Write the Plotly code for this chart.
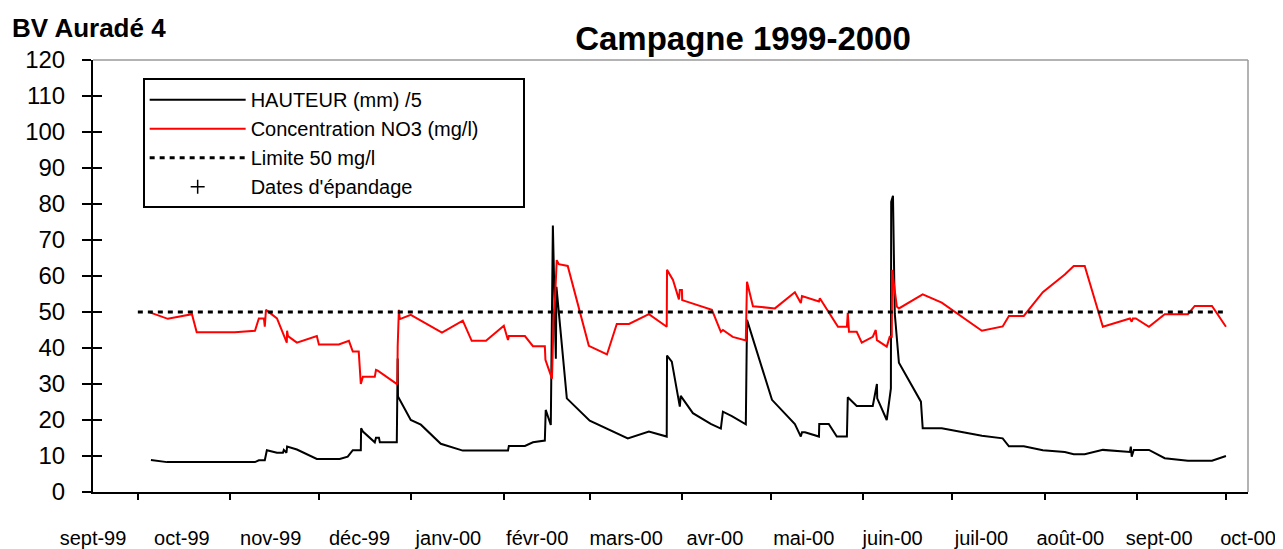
import pandas as pd
import plotly.graph_objects as go

# ---- Data (days counted from 1999-10-01) ----
origine = "1999-10-01"

jours_hauteur = [4.4, 9.8, 39.4, 40.7, 42.7, 43.4, 46.8, 48.8, 49.1, 50.0, 50.2, 53.5, 60.2, 67.9,
                 70.6, 72.3, 75.0, 75.1, 75.7, 79.7, 80.1, 81.1, 81.4, 87.1, 87.4, 87.5, 91.8, 95.2,
                 101.9, 109.3, 124.5, 124.8, 130.2, 132.9, 136.9, 137.2, 138.9, 139.6, 140.6, 140.8,
                 144.3, 151.4, 152.0, 164.8, 171.9, 177.9, 178.0, 179.6, 182.3, 182.6, 186.7, 192.7,
                 196.1, 196.8, 199.8, 204.5, 204.9, 213.3, 221.0, 223.0, 223.4, 224.4, 229.1, 229.2,
                 232.4, 235.1, 238.5, 238.8, 241.8, 247.2, 248.6, 248.7, 251.9, 253.3, 253.4, 254.0,
                 254.6, 256.0, 263.4, 264.0, 270.4, 283.9, 290.9, 293.0, 298.0, 304.4, 311.8, 314.8,
                 318.5, 324.6, 333.7, 334.0, 334.3, 335.0, 340.1, 345.4, 353.2, 361.3, 366.0]
hauteur_sur5 = [8.9, 8.3, 8.3, 8.8, 8.8, 11.6, 10.9, 10.9, 11.7, 10.9, 12.6, 11.8, 9.2, 9.2,
                9.8, 11.6, 11.6, 17.7, 16.8, 13.8, 15.1, 15.1, 13.8, 13.8, 37.1, 26.5, 20.0, 18.7,
                13.4, 11.5, 11.5, 12.8, 12.8, 13.8, 14.3, 22.8, 18.6, 74.0, 37.0, 57.0,
                26.0, 20.5, 19.8, 14.9, 16.8, 15.4, 37.9, 36.2, 23.7, 26.7, 21.9, 18.9,
                17.6, 22.3, 21.1, 18.8, 47.8, 25.6, 18.9, 15.4, 16.6, 16.6, 15.4, 18.9,
                18.9, 15.4, 15.4, 26.3, 23.9, 23.9, 30.0, 26.0, 20.0, 28.8, 80.6, 82.3,
                49.6, 35.9, 25.1, 17.7, 17.7, 15.6, 14.9, 12.7, 12.7, 11.6, 11.1, 10.5,
                10.5, 11.7, 11.1, 12.6, 9.8, 11.7, 11.7, 9.4, 8.7, 8.7, 10.0]

jours_no3 = [4.0, 10.1, 18.2, 19.8, 32.6, 39.4, 40.7, 42.4, 42.7, 43.1, 46.8, 50.1, 50.2, 50.5,
             53.5, 60.2, 60.9, 67.6, 71.0, 72.3, 74.3, 75.0, 75.7, 79.7, 80.1, 80.7, 87.3, 87.4,
             87.8, 88.1, 91.8, 102.3, 109.3, 112.3, 117.1, 123.1, 124.5, 124.8, 130.2, 132.9,
             136.9, 137.1, 139.3, 139.9, 140.3, 140.9, 141.6, 144.6, 151.7, 157.8, 161.1, 165.2,
             171.9, 177.9, 178.0, 180.0, 182.0, 182.3, 183.0, 183.1, 193.1, 196.1, 196.8, 200.1,
             204.5, 204.9, 206.9, 214.3, 221.0, 223.0, 223.4, 229.1, 229.4, 235.5, 238.5, 238.8,
             239.2, 241.8, 243.5, 247.2, 248.2, 248.6, 251.9, 252.9, 253.6, 253.7, 255.3, 256.0,
             264.0, 270.4, 283.9, 290.9, 293.0, 298.0, 304.4, 311.8, 314.8, 318.5, 324.6, 333.7,
             334.3, 334.7, 335.7, 340.1, 345.4, 353.2, 355.5, 361.3, 366.0]
no3 = [49.9, 48.1, 49.4, 44.4, 44.4, 44.8, 48.2, 48.2, 45.9, 50.6, 48.2, 41.5, 44.8, 43.3,
       41.5, 43.3, 41.0, 41.0, 42.0, 39.0, 39.0, 30.0, 32.0, 32.0, 33.9, 33.7, 29.9, 40.4,
       50.6, 48.0, 49.2, 44.3, 47.6, 42.0, 42.0, 46.2, 42.2, 43.3, 43.3, 40.5,
       40.5, 36.7, 31.5, 49.7, 53.3, 64.4, 63.3, 62.8, 40.6, 38.2, 46.7, 46.7,
       49.4, 45.9, 61.7, 58.9, 53.5, 56.1, 56.1, 53.3, 50.6, 44.5, 45.0, 43.1,
       42.1, 58.4, 51.6, 51.0, 55.5, 52.5, 54.4, 52.9, 53.8, 45.9, 45.9, 49.8,
       44.5, 44.5, 41.5, 43.1, 45.0, 42.2, 40.4, 43.1, 43.1, 61.7, 51.5, 51.0,
       54.9, 52.6, 44.8, 46.0, 48.9, 48.9, 55.5, 60.4, 62.8, 62.8, 45.9, 48.2,
       47.3, 48.2, 48.2, 45.9, 49.4, 49.4, 51.7, 51.7, 45.9]

limite_dates = ["1999-10-01", "2000-10-01"]
limite_val = [50, 50]

debuts_mois = ["1999-10-01", "1999-11-01", "1999-12-01", "2000-01-01", "2000-02-01", "2000-03-01",
               "2000-04-01", "2000-05-01", "2000-06-01", "2000-07-01", "2000-08-01", "2000-09-01",
               "2000-10-01"]
etiquettes_mois = ["sept-99", "oct-99", "nov-99", "déc-99", "janv-00", "févr-00", "mars-00",
                   "avr-00", "mai-00", "juin-00", "juil-00", "août-00", "sept-00", "oct-00"]

base = pd.Timestamp(origine)
dates_h = [base + pd.Timedelta(days=d) for d in jours_hauteur]
dates_n = [base + pd.Timedelta(days=d) for d in jours_no3]

FONT = "Liberation Sans, Arial, sans-serif"
W, H = 1275, 541
NBSP = "\u00a0"

fig = go.Figure()
fig.add_trace(go.Scatter(x=dates_h, y=hauteur_sur5, mode="lines", name="HAUTEUR (mm) /5",
                         line=dict(color="black", width=2)))
fig.add_trace(go.Scatter(x=dates_n, y=no3, mode="lines",
                         name="Concentration NO3 (mg/l)" + NBSP * 7,
                         line=dict(color="#ff0000", width=2)))
fig.add_trace(go.Scatter(x=limite_dates, y=limite_val, mode="lines", name="Limite 50 mg/l",
                         line=dict(color="black", width=3, dash="5px,5px")))
fig.add_trace(go.Scatter(x=[None], y=[None], mode="markers", name="Dates d'épandage",
                         marker=dict(symbol="cross-thin", size=10, color="black",
                                     line=dict(color="black", width=1.5))))

fig.update_layout(
    width=W, height=H,
    margin=dict(l=85, r=35, t=52, b=57, autoexpand=False),
    paper_bgcolor="white", plot_bgcolor="white",
    font=dict(family=FONT, color="black"),
    title=dict(text="<b>Campagne 1999-2000</b>", x=735 / W, xanchor="center",
               y=1 - 30 / H, yanchor="middle", font=dict(size=33, family=FONT)),
    showlegend=True,
    legend=dict(x=0.043, y=0.958, xanchor="left", yanchor="top",
                bgcolor="white", bordercolor="black", borderwidth=2,
                font=dict(size=20, family=FONT), itemwidth=96,
                tracegroupgap=0),
    xaxis=dict(type="date", range=["1999-09-15 22:00", "2000-10-08 10:00"],
               tickvals=debuts_mois, showticklabels=False, ticks="outside",
               ticklen=6, tickwidth=2, tickcolor="black",
               showline=True, linecolor="black", linewidth=2,
               showgrid=False, zeroline=False, automargin=False),
    xaxis2=dict(overlaying="x", anchor="y", side="bottom", range=[0, 13],
                tickmode="array", tickvals=list(range(14)), ticktext=etiquettes_mois,
                showline=False, showgrid=False, zeroline=False, ticks="",
                ticklabelstandoff=32, tickfont=dict(size=20, family=FONT),
                automargin=False),
    yaxis=dict(range=[0, 120], tickvals=list(range(0, 121, 10)), ticks="outside",
               ticklen=9, tickwidth=2, tickcolor="black",
               showline=True, linecolor="black", linewidth=2,
               showgrid=False, zeroline=False, automargin=False,
               tickfont=dict(size=24, family=FONT), ticklabelstandoff=12),
    yaxis3=dict(overlaying="y", anchor="x", side="left", range=[0, 120],
                tickvals=list(range(0, 121, 10)), ticks="inside", ticklen=9,
                tickwidth=2, tickcolor="black", showticklabels=False,
                showline=False, showgrid=False, zeroline=False, automargin=False),
)

# Invisible trace to activate the overlay axes
fig.add_trace(go.Scatter(x=[None], y=[None], xaxis="x2", yaxis="y3", showlegend=False,
                         hoverinfo="skip"))

# Gray frame on top and right
fig.add_shape(type="line", xref="paper", yref="paper", x0=0, x1=1, y0=1, y1=1,
              line=dict(color="#9a9a9a", width=1.5))
fig.add_shape(type="line", xref="paper", yref="paper", x0=1, x1=1, y0=0, y1=1,
              line=dict(color="#9a9a9a", width=1.5))

fig.add_annotation(text="<b>BV Auradé 4</b>", xref="paper", yref="paper",
                   x=(10 - 93) / 1155, y=(492 - 28) / 432, xanchor="left", yanchor="middle",
                   showarrow=False, font=dict(size=26, family=FONT))

fig.write_html("out.html")
